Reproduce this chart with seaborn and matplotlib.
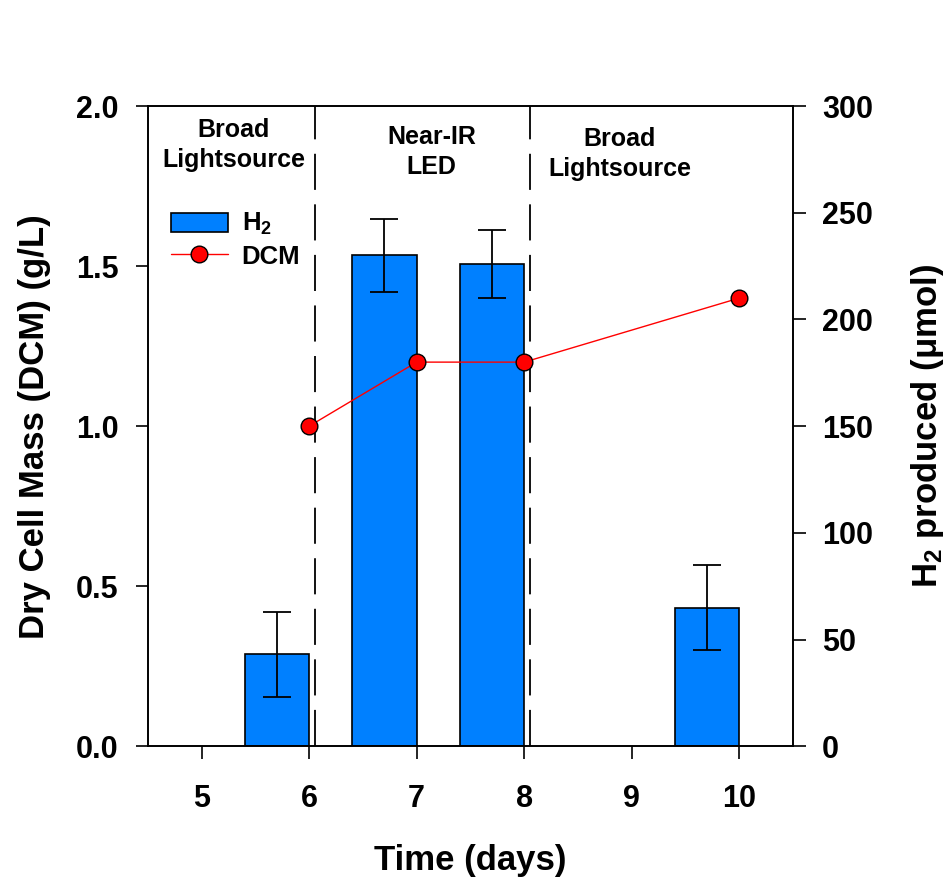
import matplotlib
matplotlib.use("Agg")
import matplotlib.pyplot as plt
import seaborn as sns
import pandas as pd
from matplotlib.patches import Patch
from matplotlib.lines import Line2D

# ---- data ----
days_h2 = [6, 7, 8, 10]
h2_values = [43, 230, 226, 65]
h2_errors = [20, 17, 16, 20]

days_dcm = [6, 7, 8, 10]
dcm_values = [1.0, 1.2, 1.2, 1.4]

x_ticks = [5, 6, 7, 8, 9, 10]
phase_bounds = [6.05, 8.05]
phase_labels = ["Broad\nLightsource", "Near-IR\nLED", "Broad\nLightsource"]
phase_label_x = [5.3, 7.14, 8.89]
phase_label_y = [1.878, 1.856, 1.85]

bar_width = 0.6

sns.set_theme(style="ticks")
plt.rcParams["font.family"] = ["Liberation Sans", "DejaVu Sans"]
plt.rcParams["font.weight"] = "bold"
plt.rcParams["mathtext.default"] = "regular"
plt.rcParams["text.color"] = "black"
plt.rcParams["axes.labelcolor"] = "black"

fig = plt.figure(figsize=(9.48, 8.8), dpi=100)
ax = fig.add_axes([0.156, 0.152, 0.6805, 0.7275])
ax2 = ax.twinx()

# bars on right axis (bar spans day-0.6 .. day)
bar_df = pd.DataFrame({"x": [d - bar_width / 2 for d in days_h2], "H2": h2_values})
sns.barplot(data=bar_df, x="x", y="H2", native_scale=True, width=bar_width,
            color="#0080FF", saturation=1, edgecolor="black", linewidth=1.2,
            ax=ax2, errorbar=None)
ax2.errorbar(bar_df["x"], h2_values, yerr=h2_errors, fmt="none", ecolor="black",
             elinewidth=1.3, capsize=10, capthick=1.3, zorder=5)

# DCM on left axis, above bars
ax.set_zorder(ax2.get_zorder() + 1)
ax.patch.set_visible(False)
dcm_df = pd.DataFrame({"day": days_dcm, "DCM": dcm_values})
sns.lineplot(data=dcm_df, x="day", y="DCM", ax=ax, color="red", linewidth=1.0,
             marker="o", markersize=12, markerfacecolor="red",
             markeredgecolor="black", markeredgewidth=1.0, zorder=6)

for xb in phase_bounds:
    ax.axvline(xb, color="black", linewidth=1.3, dashes=(20, 8), zorder=4)

for tx, ty, lab in zip(phase_label_x, phase_label_y, phase_labels):
    ax.text(tx, ty, lab, ha="center", va="center", fontsize=18,
            fontweight="bold", linespacing=1.3, color="black")

ax.set_xlim(4.5, 10.5)
ax.set_ylim(0, 2.0)
ax2.set_ylim(0, 300)
ax.set_xticks(x_ticks)
ax.set_yticks([0.0, 0.5, 1.0, 1.5, 2.0])
ax.set_yticklabels(["0.0", "0.5", "1.0", "1.5", "2.0"])
ax2.set_yticks([0, 50, 100, 150, 200, 250, 300])

for a in (ax, ax2):
    a.tick_params(axis="both", direction="out", length=9, width=1.2,
                  labelsize=22, colors="black", pad=12)
    for s in a.spines.values():
        s.set_linewidth(1.2)
        s.set_color("black")
        s.set_visible(True)
ax.tick_params(axis="x", pad=18)

ax.set_xlabel("Time (days)", fontsize=25, fontweight="bold", labelpad=22)
ax.set_ylabel("Dry Cell Mass (DCM) (g/L)", fontsize=25, fontweight="bold", labelpad=18)
ax2.set_ylabel("H$_2$ produced (μmol)", fontsize=25, fontweight="bold", labelpad=26)

handles = [
    Patch(facecolor="#0080FF", edgecolor="black", linewidth=1.2, label="H$_2$"),
    Line2D([0], [0], color="red", linewidth=1.0, marker="o", markersize=12,
           markerfacecolor="red", markeredgecolor="black", label="DCM"),
]
ax.legend(handles=handles, loc="upper left", bbox_to_anchor=(0.0, 0.872),
          frameon=False, handlelength=2.2, handleheight=0.75,
          labelspacing=0.28, handletextpad=0.55,
          prop={"weight": "bold", "size": 18.5})

fig.savefig("out.png", dpi=100)
